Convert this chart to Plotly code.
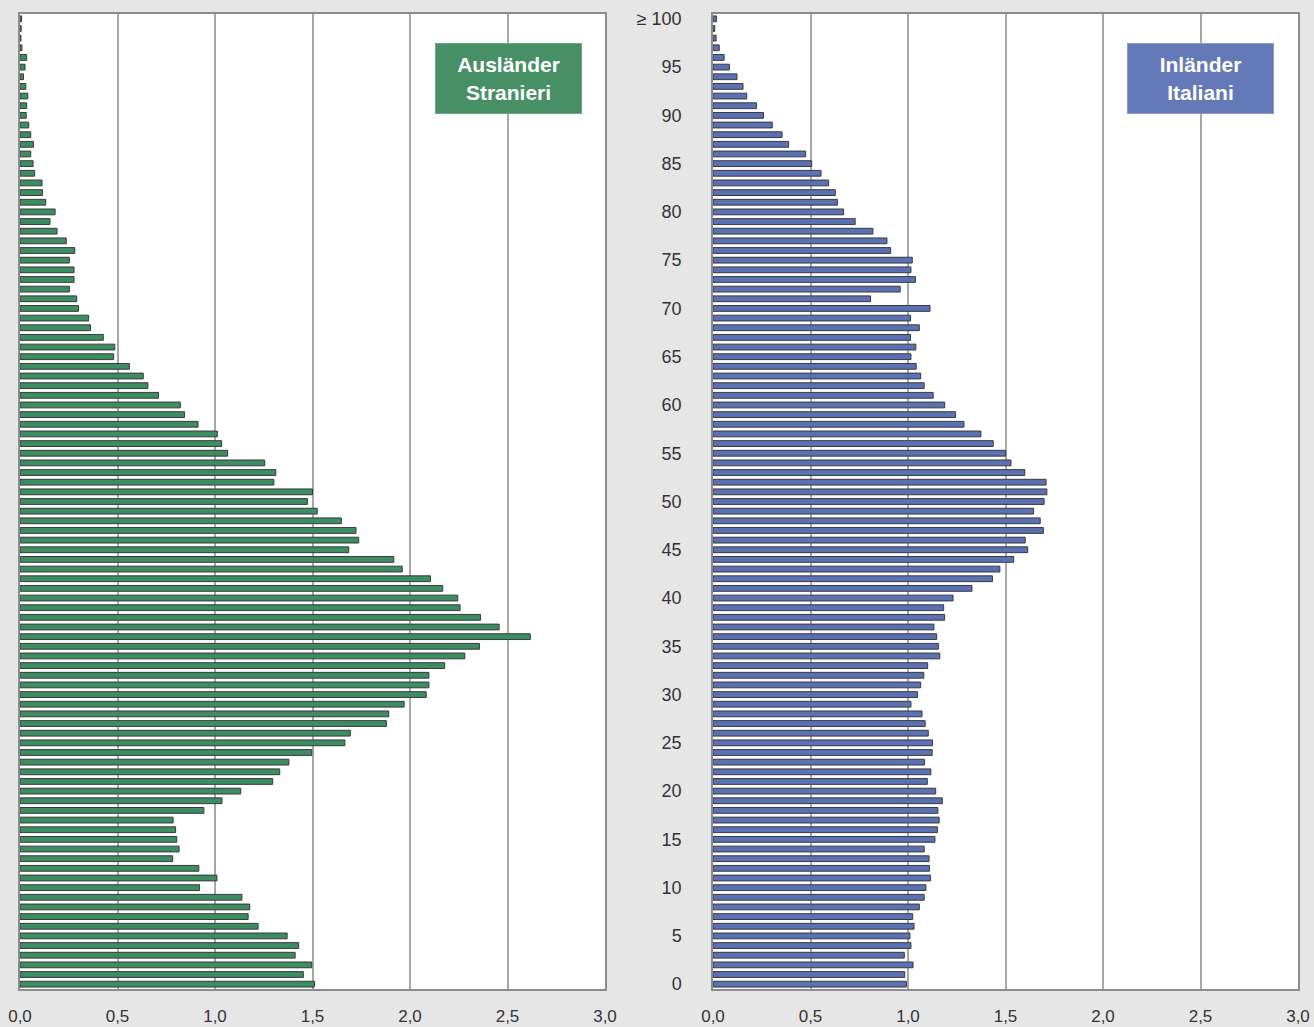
import plotly.graph_objects as go

ages = list(range(0, 101))

# Share of population by single year of age (%), foreigners (Ausländer / Stranieri)
foreigners = [
    1.51, 1.453, 1.496, 1.411, 1.429, 1.37, 1.221, 1.17, 1.178, 1.138,   # 0-9
    0.921, 1.01, 0.917, 0.783, 0.816, 0.804, 0.798, 0.785, 0.943, 1.036,  # 10-19
    1.132, 1.296, 1.332, 1.379, 1.496, 1.666, 1.694, 1.879, 1.891, 1.97,  # 20-29
    2.083, 2.097, 2.097, 2.178, 2.281, 2.356, 2.617, 2.457, 2.362, 2.257, # 30-39
    2.245, 2.168, 2.105, 1.96, 1.917, 1.686, 1.737, 1.723, 1.648, 1.524,  # 40-49
    1.474, 1.50, 1.302, 1.312, 1.255, 1.065, 1.034, 1.012, 0.913, 0.844,  # 50-59
    0.822, 0.71, 0.656, 0.632, 0.561, 0.48, 0.486, 0.427, 0.362, 0.352,   # 60-69
    0.30, 0.291, 0.253, 0.277, 0.277, 0.253, 0.281, 0.237, 0.19, 0.154,   # 70-79
    0.18, 0.132, 0.115, 0.113, 0.075, 0.067, 0.055, 0.069, 0.055, 0.045,  # 80-89
    0.032, 0.034, 0.04, 0.03, 0.018, 0.026, 0.034, 0.01, 0.005, 0.006,    # 90-99
    0.008,                                                                # >=100
]

# Share of population by single year of age (%), Italians (Inländer / Italiani)
italians = [
    0.992, 0.983, 1.026, 0.981, 1.015, 1.01, 1.031, 1.024, 1.058, 1.083,  # 0-9
    1.092, 1.115, 1.11, 1.108, 1.083, 1.138, 1.151, 1.16, 1.153, 1.176,   # 10-19
    1.142, 1.099, 1.117, 1.085, 1.124, 1.126, 1.104, 1.088, 1.072, 1.015, # 20-29
    1.049, 1.065, 1.081, 1.101, 1.163, 1.156, 1.147, 1.133, 1.188, 1.183, # 30-39
    1.231, 1.328, 1.433, 1.471, 1.542, 1.614, 1.601, 1.694, 1.678, 1.644, # 40-49
    1.698, 1.712, 1.708, 1.599, 1.528, 1.501, 1.437, 1.374, 1.287, 1.244, # 50-59
    1.188, 1.129, 1.083, 1.065, 1.042, 1.015, 1.04, 1.013, 1.058, 1.013,  # 60-69
    1.113, 0.808, 0.96, 1.038, 1.015, 1.022, 0.911, 0.892, 0.82, 0.729,   # 70-79
    0.67, 0.638, 0.627, 0.593, 0.554, 0.506, 0.475, 0.388, 0.354, 0.304,  # 80-89
    0.259, 0.223, 0.173, 0.154, 0.123, 0.084, 0.057, 0.032, 0.016, 0.009, # 90-99
    0.018,                                                                # >=100
]

x_tickvals = [0, 0.5, 1.0, 1.5, 2.0, 2.5, 3.0]
x_ticktext = ["0,0", "0,5", "1,0", "1,5", "2,0", "2,5", "3,0"]
y_tickvals = [0, 5, 10, 15, 20, 25, 30, 35, 40, 45, 50, 55, 60, 65, 70, 75, 80, 85, 90, 95, 100]
y_ticktext = [str(v) for v in y_tickvals[:-1]] + ["≥ 100"]

GREEN = "#3d8d62"
BLUE = "#5a71b4"
OUTLINE = "#3a3a3a"
FONT = "Liberation Sans, Arial, sans-serif"
W, H = 1314, 1027

fig = go.Figure()
fig.add_trace(go.Bar(
    y=ages, x=foreigners, orientation="h", width=0.6,
    marker=dict(color=GREEN, line=dict(color=OUTLINE, width=1)),
    xaxis="x", yaxis="y", showlegend=False,
))
fig.add_trace(go.Bar(
    y=ages, x=italians, orientation="h", width=0.6,
    marker=dict(color=BLUE, line=dict(color=OUTLINE, width=1)),
    xaxis="x2", yaxis="y2", showlegend=False,
))

xcommon = dict(
    range=[0, 3.0], tickvals=x_tickvals, ticktext=x_ticktext,
    showgrid=True, gridcolor="#a8a8a8", gridwidth=1.5,
    showline=True, linecolor="#8c8c8c", linewidth=1.5, mirror=True,
    zeroline=False, ticks="", ticklabelstandoff=11, automargin=False,
    tickfont=dict(family=FONT, size=17, color="#333333"),
    fixedrange=True,
)
ycommon = dict(
    range=[-0.5, 100.5], showgrid=False, zeroline=False,
    showline=True, linecolor="#8c8c8c", linewidth=1.5, mirror=True,
    ticks="", fixedrange=True, automargin=False,
)

fig.update_layout(
    template="none",
    width=W, height=H,
    margin=dict(l=0, r=0, t=0, b=0, pad=0),
    paper_bgcolor="#e6e6e6",
    plot_bgcolor="#ffffff",
    bargap=0.4,
    xaxis=dict(domain=[20 / W, 605 / W], anchor="y", **xcommon),
    xaxis2=dict(domain=[713 / W, 1298 / W], anchor="y2", **xcommon),
    yaxis=dict(domain=[1 - 989 / H, 1 - 14 / H], anchor="x", showticklabels=False, **ycommon),
    yaxis2=dict(
        domain=[1 - 989 / H, 1 - 14 / H], anchor="x2",
        tickvals=y_tickvals, ticktext=y_ticktext, ticklabelstandoff=26,
        tickfont=dict(family=FONT, size=18, color="#333333"),
        **ycommon,
    ),
    annotations=[
        dict(
            text="<b>Ausländer<br>Stranieri</b>", xref="paper", yref="paper",
            x=508.5 / W, y=1 - 78.5 / H, xanchor="center", yanchor="middle",
            showarrow=False, width=143, height=67, bgcolor="#479066",
            bordercolor="#6fa888", borderwidth=1, align="center",
            font=dict(family=FONT, size=21, color="#ffffff"),
        ),
        dict(
            text="<b>Inländer<br>Italiani</b>", xref="paper", yref="paper",
            x=1200.5 / W, y=1 - 78.5 / H, xanchor="center", yanchor="middle",
            showarrow=False, width=143, height=67, bgcolor="#6479b8",
            bordercolor="#8a9bcc", borderwidth=1, align="center",
            font=dict(family=FONT, size=21, color="#ffffff"),
        ),
    ],
)

fig.write_html(
    "out.html",
    config={"displayModeBar": False},
    post_script="document.body.style.margin='0';document.body.style.overflow='hidden';"
                "document.body.style.background='#e6e6e6';",
)
